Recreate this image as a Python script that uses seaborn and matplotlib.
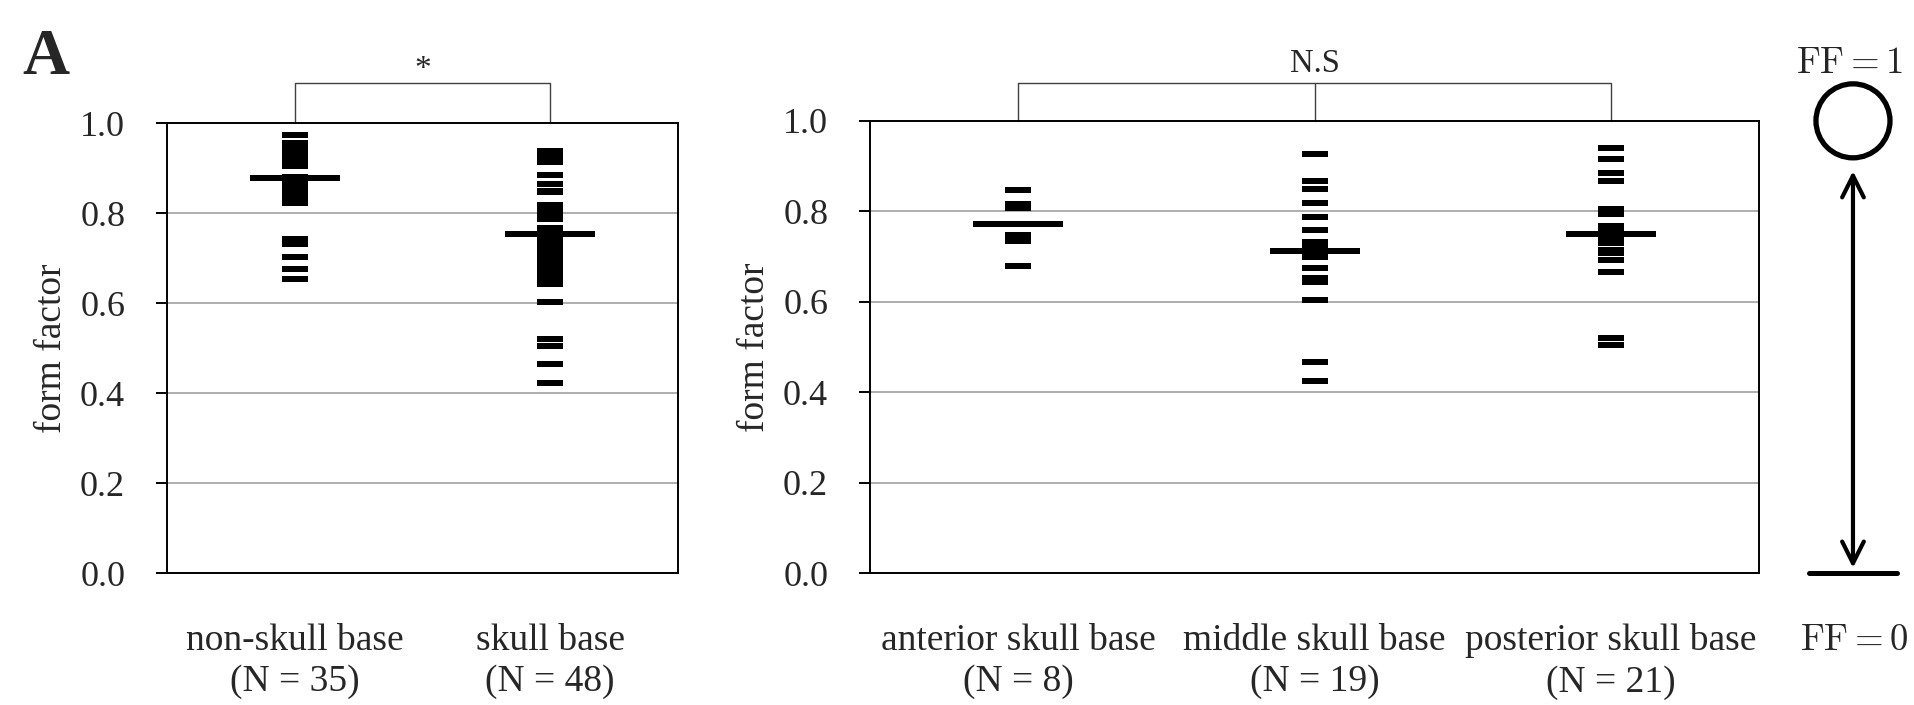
import matplotlib
matplotlib.use("Agg")
import matplotlib.pyplot as plt
from matplotlib.patches import Ellipse
import pandas as pd
import seaborn as sns

# Form factor of each tumour, grouped by location
non_skull_base = [0.974, 0.957, 0.954, 0.949, 0.946, 0.944, 0.941, 0.938, 0.935, 0.930,
                  0.927, 0.924, 0.921, 0.917, 0.913, 0.910, 0.907, 0.905,
                  0.881, 0.877, 0.872, 0.868, 0.862, 0.858, 0.853, 0.847, 0.841, 0.836,
                  0.829, 0.822,
                  0.744, 0.731, 0.702, 0.677, 0.653]
anterior = [0.848, 0.817, 0.812, 0.808, 0.748, 0.742, 0.735, 0.679]
middle = [0.926, 0.866, 0.849, 0.818, 0.787, 0.758, 0.733, 0.731, 0.728, 0.725,
          0.722, 0.715, 0.700, 0.675, 0.653, 0.643, 0.604, 0.466, 0.424]
posterior = [0.939, 0.915, 0.885, 0.866, 0.806, 0.793, 0.768, 0.760, 0.754, 0.749,
             0.745, 0.741, 0.737, 0.734, 0.730, 0.715, 0.709, 0.692, 0.666, 0.520, 0.505]
skull_base = anterior + middle + posterior

# Group averages shown as the long horizontal bars
avg_left = [0.879, 0.753]
avg_right = [0.772, 0.712, 0.749]

names_left = ["non-skull base", "skull base"]
names_right = ["anterior skull base", "middle skull base", "posterior skull base"]
groups_left = [non_skull_base, skull_base]
groups_right = [anterior, middle, posterior]

y_ticks = [0.0, 0.2, 0.4, 0.6, 0.8, 1.0]

sns.set_theme(style="white")
plt.rcParams["font.family"] = ["Liberation Serif", "DejaVu Serif"]
plt.rcParams["mathtext.fontset"] = "cm"

# flat rectangular markers: short dash for each case, long bar for the average
DASH = [(-1, -0.23), (1, -0.23), (1, 0.23), (-1, 0.23), (-1, -0.23)]
BAR = [(-1, -0.06), (1, -0.06), (1, 0.06), (-1, 0.06), (-1, -0.06)]


def long_table(names, groups):
    rows = []
    for n, vals in zip(names, groups):
        for v in vals:
            rows.append({"group": n, "ff": v})
    return pd.DataFrame(rows)


def draw_panel(ax, names, groups, avgs):
    df = long_table(names, groups)
    sns.stripplot(data=df, x="group", y="ff", order=names, jitter=False,
                  color="black", marker=DASH, size=18.7, linewidth=0, ax=ax, zorder=3)
    avg_df = pd.DataFrame({"group": names, "ff": avgs})
    sns.stripplot(data=avg_df, x="group", y="ff", order=names, jitter=False,
                  color="black", marker=BAR, size=65, linewidth=0, ax=ax, zorder=4)
    ax.set_xlim(-0.5, len(names) - 0.5)
    ax.set_ylim(0, 1)
    ax.set_yticks(y_ticks)
    ax.set_yticklabels([f"{t:.1f}" for t in y_ticks])
    ax.set_xticks(range(len(names)))
    ax.set_xticklabels([f"{n}\n(N = {len(g)})" for n, g in zip(names, groups)])
    for t in ax.get_xticklabels():
        t.set_linespacing(1.25)
    ax.yaxis.grid(True, color="#a0a0a0", linewidth=1.2, zorder=0)
    ax.set_axisbelow(True)
    for s in ax.spines.values():
        s.set_visible(True)
        s.set_color("black")
        s.set_linewidth(1.4)
    ax.tick_params(axis="y", direction="out", length=8, width=1.4, color="black",
                   pad=22, labelsize=26, left=True)
    ax.tick_params(axis="x", length=0, pad=36, labelsize=27)
    ax.set_xlabel("")
    ax.set_ylabel("form factor", fontsize=27, labelpad=8)


fig = plt.figure(figsize=(19.15, 7.05), dpi=100)
ax1 = fig.add_axes([0.08715, 0.1868, 0.2668, 0.6383])
ax2 = fig.add_axes([0.4542, 0.1868, 0.4645, 0.6418])
draw_panel(ax1, names_left, groups_left, avg_left)
draw_panel(ax2, names_right, groups_right, avg_right)

# significance brackets
br = "#404040"
ax1.plot([0, 0, 1, 1], [1.0, 1.09, 1.09, 1.0], color=br, lw=1.0, clip_on=False)
ax1.text(0.5, 1.118, "*", ha="center", va="center", fontsize=24)
ax2.plot([0, 0, 2, 2], [1.0, 1.084, 1.084, 1.0], color=br, lw=1.0, clip_on=False)
ax2.plot([1, 1], [1.0, 1.084], color=br, lw=1.0, clip_on=False)
ax2.text(1, 1.108, "N.S", ha="center", va="baseline", fontsize=23.5)

# panel letter
fig.text(0.0115, 0.918, "A", fontsize=47, fontweight="bold", ha="left", va="center")

# schematic of the form-factor scale
ax3 = fig.add_axes([0.9347, 0.1868, 0.0653, 0.6418])
ax3.set_xlim(0, 125)
ax3.set_ylim(0, 1)
ax3.axis("off")
ax3.add_patch(Ellipse((63, 1.0), width=74, height=74 / 452.5, fill=False,
                      edgecolor="black", linewidth=3.8, clip_on=False))
ax3.annotate("", xy=(63, 0.889), xytext=(63, 0.012),
             arrowprops=dict(arrowstyle="<->,head_length=0.6,head_width=0.3",
                             mutation_scale=26, lw=3.0, color="black",
                             shrinkA=0, shrinkB=0),
             annotation_clip=False)
ax3.plot([19, 107], [0, 0], color="black", lw=3.6, clip_on=False)
ax3.text(60, 1.127, r"$\mathrm{FF} = 1$", ha="center", va="center", fontsize=26.5, clip_on=False)
ax3.text(64, -0.15, r"$\mathrm{FF} = 0$", ha="center", va="center", fontsize=26.5, clip_on=False)

fig.savefig("out.png", dpi=100)
